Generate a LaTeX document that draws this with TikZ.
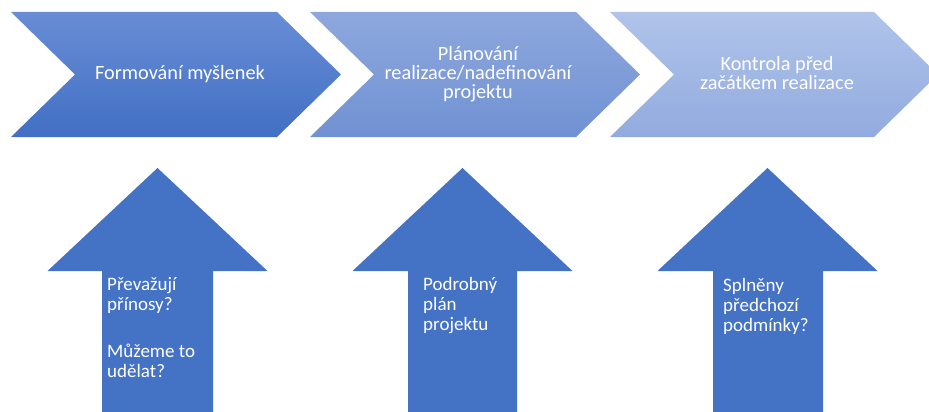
\documentclass[tikz,border=0pt]{standalone}
\usepackage{fontspec}
\setmainfont{Carlito}
\usepackage{xcolor}
\usepackage{tikz}
\definecolor{ArrowBlue}{RGB}{68,114,196}
\definecolor{StepOneTop}{RGB}{104,141,213}
\definecolor{StepOneBot}{RGB}{66,111,196}
\definecolor{StepTwoTop}{RGB}{142,168,222}
\definecolor{StepTwoBot}{RGB}{112,145,210}
\definecolor{StepThreeTop}{RGB}{176,196,234}
\definecolor{StepThreeBot}{RGB}{146,171,223}

\begin{document}
\begin{tikzpicture}[
x=1pt,y=-1pt,
chevtext/.style={
text=white,
align=center,
inner sep=0pt,
font=\fontsize{20.3}{19}\selectfont
},
uptext/.style={
text=white,
align=left,
inner sep=0pt,
anchor=base west,
font=\fontsize{19}{20}\selectfont
},
uparrow/.style={fill=ArrowBlue}
]
\useasboundingbox[fill=white] (0,0) rectangle (929,412);

% process steps
\shade[top color=StepOneTop,bottom color=StepOneBot]
(11,12) -- (277,12) -- (341,74.5) -- (277,137) -- (11,137) -- (75,74.5) -- cycle;
\shade[top color=StepTwoTop,bottom color=StepTwoBot]
(310,12) -- (576,12) -- (640,74.5) -- (576,137) -- (310,137) -- (374,74.5) -- cycle;
\shade[top color=StepThreeTop,bottom color=StepThreeBot]
(610,12) -- (874,12) -- (938,74.5) -- (874,137) -- (610,137) -- (674,74.5) -- cycle;

\node[chevtext] (form) at (180,74.5) {Formování myšlenek};
\node[chevtext] (plan) at (478,74) {Plánování\\realizace/nadefinování\\projektu};
\node[chevtext] (ctrl) at (777,73) {Kontrola před\\začátkem realizace};

% checks below
\fill[uparrow] (157.5,168) -- (267.5,271) -- (213,271) -- (213,415) -- (102,415) -- (102,271) -- (47.5,271) -- cycle;
\fill[uparrow] (462.5,168) -- (572.5,271) -- (517,271) -- (517,415) -- (408,415) -- (408,271) -- (352.5,271) -- cycle;
\fill[uparrow] (767.5,168) -- (877.5,271) -- (823,271) -- (823,415) -- (713,415) -- (713,271) -- (657.5,271) -- cycle;

\node[uptext] (benefit) at (107,377) {Převažují\\přínosy?\\[27pt]Můžeme to\\udělat?};
\node[uptext] (detail) at (423,330) {Podrobný\\plán\\projektu};
\node[uptext] (precond) at (723,331) {Splněny\\předchozí\\podmínky?};
\end{tikzpicture}
\end{document}
